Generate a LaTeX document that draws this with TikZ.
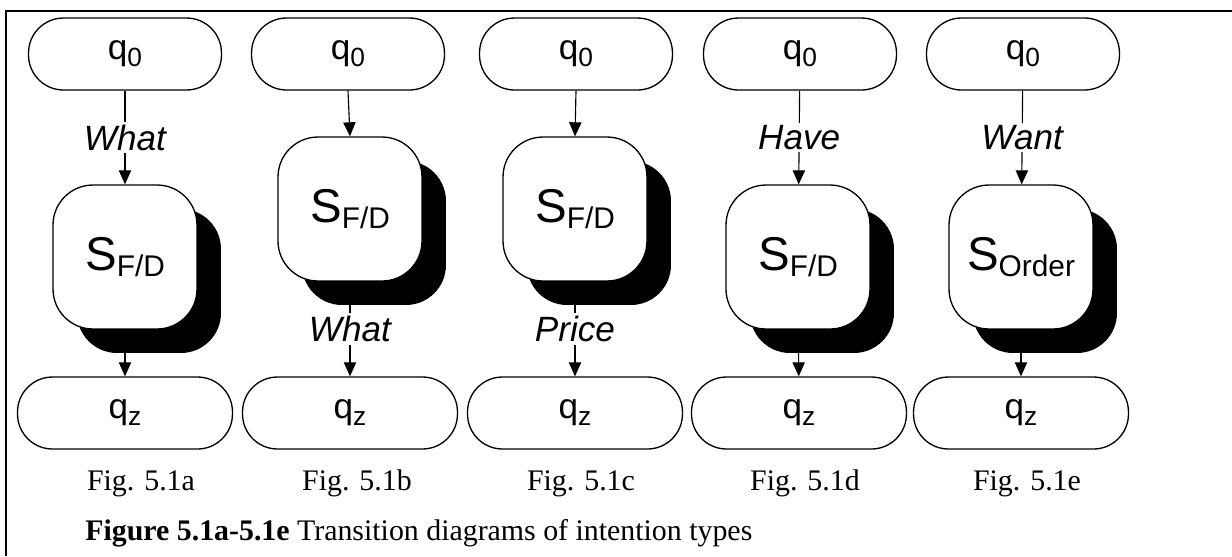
\documentclass[tikz,border=0pt]{standalone}
\usepackage{fontspec}
\setmainfont{Liberation Serif}
\setsansfont{Liberation Sans}
\usetikzlibrary{arrows.meta,shadows}
\definecolor{cLine}{RGB}{0,0,0}
\tikzset{
  B/.style    = {draw=cLine, line width=0.75pt, fill=white, text centered,
                 font=\sffamily\fontsize{20}{24}\selectfont},
  qS/.style   = {B, rounded corners=0.7cm, minimum height=1.44cm},
  qIn/.style  = {qS, minimum width=3.86cm},
  qOut/.style = {qS, minimum width=4.30cm},
  sB/.style   = {B, rounded corners=0.8cm, minimum width=2.88cm, minimum height=2.88cm,
                 drop shadow={shadow xshift=0.48cm, shadow yshift=-0.48cm,
                              fill=cLine, opacity=1}},
  lbl/.style  = {fill=white, inner sep=1.5pt,
                 font=\sffamily\itshape\fontsize{20}{24}\selectfont},
  fig/.style  = {inner sep=0pt, anchor=base, font=\fontsize{17}{20}\selectfont},
  A/.style    = {-{Triangle[width=7pt,length=8pt]}, line width=0.65pt, cLine},
}
\newcommand{\qName}[1]{q\raisebox{-4pt}{\fontsize{15}{18}\selectfont #1}}
\newcommand{\sName}[1]{{\fontsize{27}{32}\selectfont S}\raisebox{-3.5pt}{\fontsize{17}{20}\selectfont #1}}

\begin{document}
\begin{tikzpicture}[x=0.02cm, y=-0.02cm]

%% Layout (pixels of the page, y down):
%% x: 125=a, 348=b, 575=c, 799=d, 1022=e
%% y: 54=q0, 257/209=S (label above / below), 413=qz, 490=fig

\useasboundingbox (0,0) rectangle (1232,556);

%% ─── frame ───────────────────────────────────────────────────────
\draw[line width=1.2pt] (1232,11) -- (6,11) -- (6,556);

%% ─── Fig. 5.1a ───────────────────────────────────────────────────
\node[qIn]  (qa0) at (125, 54)  {\qName{0}};
\node[sB]   (sa)  at (125,257)  {\sName{F/D}};
\node[qOut] (qaz) at (125,413)  {\qName{z}};
\draw[A] (qa0) -- node[lbl] {What} (sa);
\draw[A] (sa) -- (qaz);
\node[fig] (fa) at (141,490) {Fig. 5.1a};

%% ─── Fig. 5.1b ───────────────────────────────────────────────────
\node[qIn]  (qb0) at (348, 54)  {\qName{0}};
\node[sB]   (sb)  at (350,209)  {\sName{F/D}};
\node[qOut] (qbz) at (350,413)  {\qName{z}};
\draw[A] (qb0.south) -- (sb.north);
\draw[A] (sb) -- node[lbl, pos=0.5] {What} (qbz);
\node[fig] (fb) at (357,490) {Fig. 5.1b};

%% ─── Fig. 5.1c ───────────────────────────────────────────────────
\node[qIn]  (qc0) at (576, 54)  {\qName{0}};
\node[sB]   (sc)  at (575,209)  {\sName{F/D}};
\node[qOut] (qcz) at (575,413)  {\qName{z}};
\draw[A] (qc0.south) -- (sc.north);
\draw[A] (sc) -- node[lbl, pos=0.5] {Price} (qcz);
\node[fig] (fc) at (581,490) {Fig. 5.1c};

%% ─── Fig. 5.1d ───────────────────────────────────────────────────
\node[qIn]  (qd0) at (800, 54)  {\qName{0}};
\node[sB]   (sd)  at (798,257)  {\sName{F/D}};
\node[qOut] (qdz) at (799,413)  {\qName{z}};
\draw[A] (qd0) -- node[lbl] {Have} (sd);
\draw[A] (sd) -- (qdz);
\node[fig] (fd) at (805,490) {Fig. 5.1d};

%% ─── Fig. 5.1e ───────────────────────────────────────────────────
\node[qIn]  (qe0) at (1023, 54) {\qName{0}};
\node[sB]   (se)  at (1021,257) {\sName{Order}};
\node[qOut] (qez) at (1021,413) {\qName{z}};
\draw[A] (qe0) -- node[lbl] {Want} (se);
\draw[A] (se) -- (qez);
\node[fig] (fe) at (1027,490) {Fig. 5.1e};

%% ─── caption ─────────────────────────────────────────────────────
\node[fig, anchor=base west] (cap) at (85,540)
  {\textbf{Figure 5.1a-5.1e} Transition diagrams of intention types};

\end{tikzpicture}
\end{document}
